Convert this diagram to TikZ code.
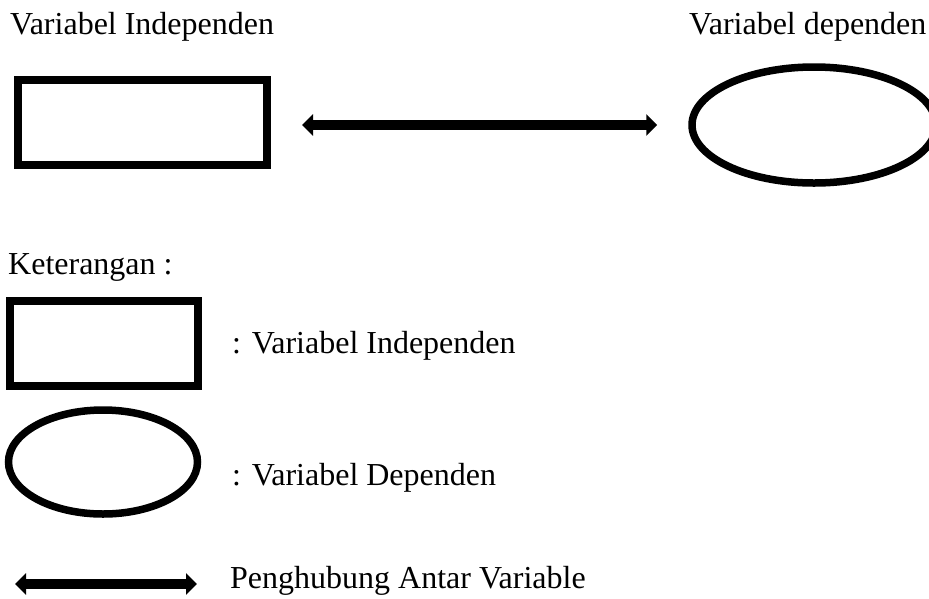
\documentclass[tikz,border=0pt]{standalone}
\usepackage{fontspec}
\setmainfont{Liberation Serif}
\usetikzlibrary{arrows.meta,shapes.geometric}

\begin{document}
\begin{tikzpicture}[x=1pt,y=-1pt,
    lbl/.style={anchor=base west,inner sep=0pt,font=\fontsize{32}{38}\selectfont},
    varbox/.style={draw,rectangle,line width=8pt,inner sep=0pt},
    varell/.style={draw,ellipse,line width=7.5pt,inner sep=0pt},
    conn/.style={line width=10pt,{Triangle[length=11pt,width=21pt]}-{Triangle[length=11pt,width=21pt]}}]
    \clip (0,0) rectangle (929,598);
    \fill[white] (0,0) rectangle (929,598);
    % model
    \node[lbl] (tindep) at (10,34) {Variabel Independen};
    \node[lbl] (tdep) at (689,34) {Variabel dependen};
    \node[varbox,minimum width=249pt,minimum height=85pt] (indep) at (142.5,122.5) {};
    \node[varell,minimum width=244pt,minimum height=116pt] (dep) at (814,125) {};
    \draw[conn,shorten <=31pt,shorten >=31pt] (indep.east |- dep.west) -- (dep.west);
    % keterangan
    \node[lbl] (ket) at (8,274) {Keterangan :};
    \node[varbox,minimum width=188pt,minimum height=85pt] (kbox) at (103.5,343.5) {};
    \node[lbl] (tkbox) at (232,353) {: Variabel Independen};
    \node[varell,minimum width=189pt,minimum height=104pt] (kell) at (103,462) {};
    \node[lbl] (tkell) at (232,485) {: Variabel Dependen};
    \coordinate (ka) at (15,584);
    \coordinate (kb) at (197,584);
    \draw[conn] (ka) -- (kb);
    \node[lbl] (tkconn) at (230,588) {Penghubung Antar Variable};
\end{tikzpicture}
\end{document}
